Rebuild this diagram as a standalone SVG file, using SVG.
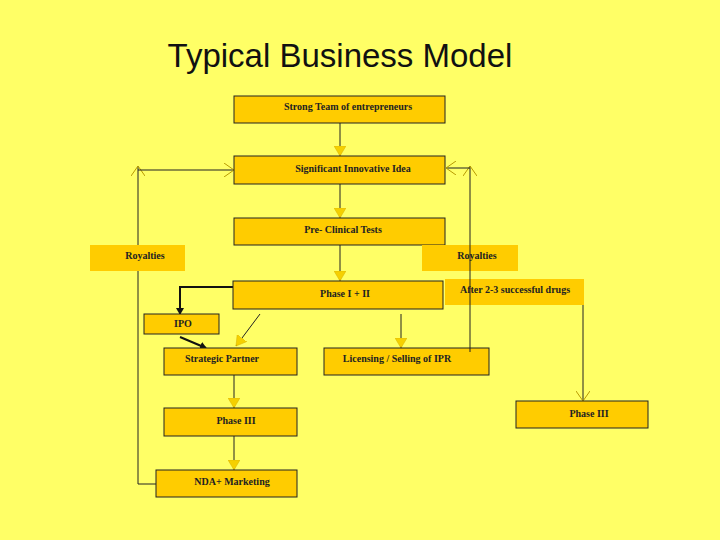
<svg xmlns="http://www.w3.org/2000/svg" width="720" height="540" viewBox="0 0 720 540">
<style>
.b{fill:#ffcc00;stroke:#222;stroke-width:1}
.n{fill:#ffcc00}
.t{font-family:"Liberation Serif",serif;font-weight:bold;font-size:10px;fill:#222;text-anchor:middle}
.c{fill:none;stroke:#222;stroke-width:1}
.k{fill:none;stroke:#111;stroke-width:2}
</style>
<defs>
<marker id="a" markerWidth="12" markerHeight="12" refX="10" refY="6" orient="auto" markerUnits="userSpaceOnUse"><path d="M0,0 L10,6 L0,12 Z" fill="#f5d000" stroke="#d8b000" stroke-width="0.5"/></marker>
<marker id="v" markerWidth="12" markerHeight="14" refX="10" refY="7" orient="auto" markerUnits="userSpaceOnUse"><path d="M0,0 L10,7 L0,14" fill="none" stroke="#b89a00" stroke-width="1"/></marker>
<marker id="k" markerWidth="8" markerHeight="8" refX="6" refY="4" orient="auto" markerUnits="userSpaceOnUse"><path d="M0,0 L7,4 L0,8 Z" fill="#111"/></marker>
</defs>
<rect width="720" height="540" fill="#ffff66"/>
<text x="340" y="67" font-family="Liberation Sans,Arial,sans-serif" font-size="33" fill="#111" text-anchor="middle">Typical Business Model</text>
<g id="connectors">
<path class="c" d="M340,123 V156" marker-end="url(#a)"/>
<path class="c" d="M340,184 V218" marker-end="url(#a)"/>
<path class="c" d="M340,245 V281" marker-end="url(#a)"/>
<path class="c" d="M156,484 H138 V166" marker-end="url(#v)"/>
<path class="c" d="M138,170 H234" marker-end="url(#v)"/>
<path class="c" d="M470,348 V166" marker-end="url(#v)"/>
<path class="c" d="M470,168 H446" marker-end="url(#v)"/>
<path class="c" d="M583,305 V401" marker-end="url(#v)"/>
<path class="k" d="M233,287 H180 V314" marker-end="url(#k)"/>
<path class="k" d="M180,337 L206,348" marker-end="url(#k)"/>
<path class="c" d="M260,314 L236,346" marker-end="url(#a)"/>
<path class="c" d="M401,314 V348" marker-end="url(#a)"/>
<path class="c" d="M234,375 V408" marker-end="url(#a)"/>
<path class="c" d="M234,436 V470" marker-end="url(#a)"/>
</g>
<g id="strong"><rect class="b" x="234" y="96" width="211" height="27"/><text class="t" x="348" y="110">Strong Team of entrepreneurs</text></g>
<g id="idea"><rect class="b" x="234" y="156" width="211" height="28"/><text class="t" x="353" y="172">Significant Innovative Idea</text></g>
<g id="preclin"><rect class="b" x="234" y="218" width="211" height="27"/><text class="t" x="343" y="233">Pre-   Clinical Tests</text></g>
<g id="roy-l"><rect class="n" x="90" y="245" width="95" height="26"/><text class="t" x="145" y="259">Royalties</text></g>
<g id="roy-r"><rect class="n" x="422" y="245" width="96" height="26"/><path class="c" d="M470,245 V271"/><text class="t" x="477" y="259">Royalties</text></g>
<g id="phase12"><rect class="b" x="233" y="281" width="210" height="28"/><text class="t" x="345" y="297">Phase I   + II</text></g>
<g id="after"><rect class="n" x="445" y="279" width="139" height="26"/><path class="c" d="M470,279 V305"/><text class="t" x="515" y="293">After 2-3  successful drugs</text></g>
<g id="ipo"><rect class="b" x="144" y="314" width="75" height="20"/><text class="t" x="183" y="327">IPO</text></g>
<g id="strategic"><rect class="b" x="164" y="348" width="133" height="27"/><text class="t" x="222" y="362">Strategic Partner</text></g>
<g id="licensing"><rect class="b" x="324" y="348" width="165" height="27"/><path class="c" d="M470,348 V352"/><text class="t" x="397" y="362">Licensing /  Selling of IPR</text></g>
<g id="phase3r"><rect class="b" x="516" y="401" width="132" height="27"/><text class="t" x="589" y="417">Phase III</text></g>
<g id="phase3l"><rect class="b" x="164" y="408" width="133" height="28"/><text class="t" x="236" y="424">Phase III</text></g>
<g id="nda"><rect class="b" x="156" y="470" width="141" height="27"/><text class="t" x="232" y="485">NDA+  Marketing</text></g>
</svg>
